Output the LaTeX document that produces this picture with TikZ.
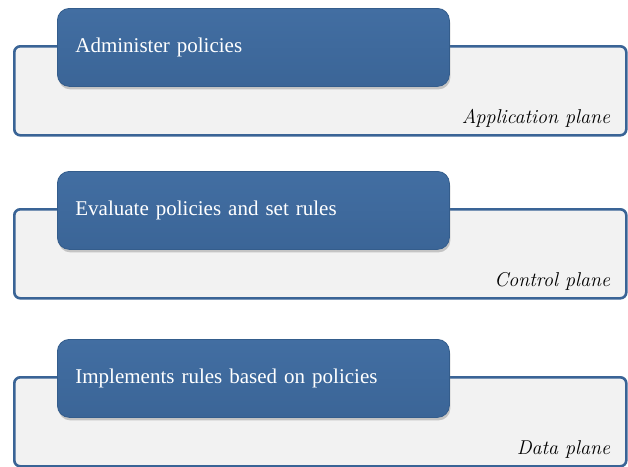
\documentclass[tikz,border=0pt]{standalone}
\usepackage{fontspec}
\newfontfamily\taskfont{Liberation Serif}
\usetikzlibrary{positioning,shadows}
\definecolor{taskblue}{HTML}{3B6597}
\definecolor{taskbluetop}{HTML}{426EA2}
\definecolor{taskedge}{HTML}{345D8C}
\definecolor{planegray}{HTML}{F2F2F2}
\definecolor{planeedge}{HTML}{3A6496}

\begin{document}
\begin{tikzpicture}[x=1pt, y=-1pt]
    % Define styles
    \tikzset{
        plane/.style={
            draw=planeedge,
            line width=2.6pt,
            fill=planegray,
            rounded corners=6pt,
            minimum width=612pt,
            minimum height=89pt,
            inner sep=0pt,
            anchor=north west
        },
        task/.style={
            draw=taskedge,
            line width=0.8pt,
            top color=taskbluetop,
            bottom color=taskblue,
            rounded corners=12pt,
            text width=356pt,
            inner xsep=18pt,
            inner ysep=0pt,
            minimum height=78pt,
            align=left,
            text=white,
            font=\taskfont\fontsize{21}{25}\selectfont,
            drop shadow={shadow xshift=1pt, shadow yshift=-3pt, opacity=0.4},
            anchor=north west
        },
        planename/.style={
            font=\itshape\fontsize{20}{24}\selectfont,
            anchor=base east
        }
    }

    \useasboundingbox (0,0) rectangle (628,466);

    % Application plane
    \begin{scope}[shift={(0,0)}]
        \node[plane] (app) at (13,45) {};
        \node[task] (admin) at (57,8) {Administer policies};
        \node[planename] (appname) at ([xshift=-14pt, yshift=13pt]app.south east) {Application plane};
    \end{scope}

    % Control plane
    \begin{scope}[shift={(0,163)}]
        \node[plane] (ctrl) at (13,45) {};
        \node[task] (evaluate) at (57,8) {Evaluate policies and set rules};
        \node[planename] (ctrlname) at ([xshift=-14pt, yshift=13pt]ctrl.south east) {Control plane};
    \end{scope}

    % Data plane
    \begin{scope}[shift={(0,331)}]
        \node[plane] (data) at (13,45) {};
        \node[task] (implement) at (57,8) {Implements rules based on policies};
        \node[planename] (dataname) at ([xshift=-14pt, yshift=13pt]data.south east) {Data plane};
    \end{scope}

\end{tikzpicture}
\end{document}
